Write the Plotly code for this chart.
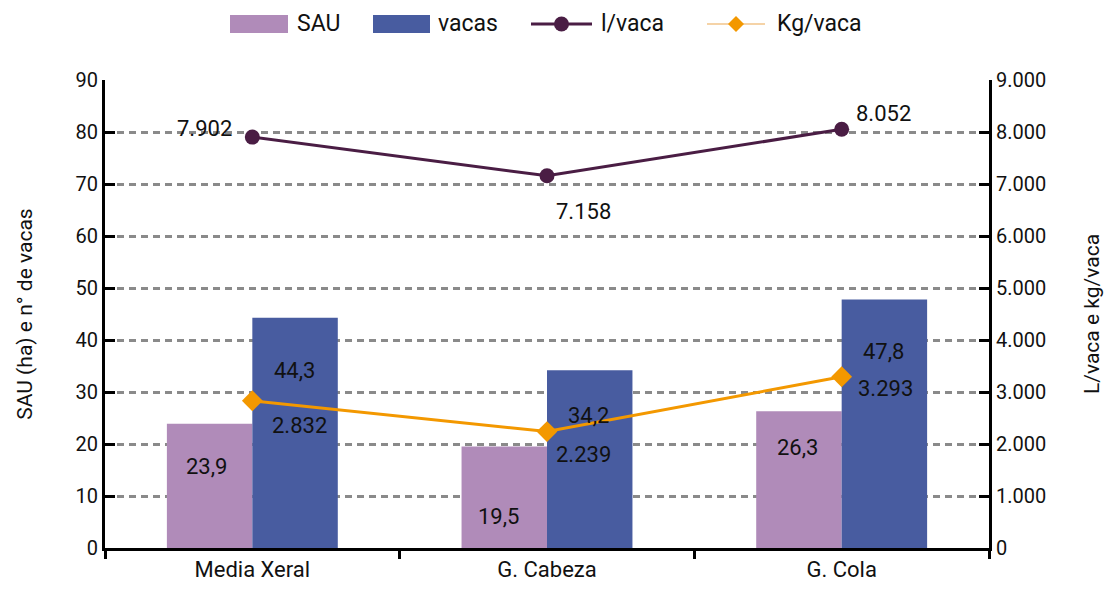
import plotly.graph_objects as go

categories = ["Media Xeral", "G. Cabeza", "G. Cola"]
sau = [23.9, 19.5, 26.3]
vacas = [44.3, 34.2, 47.8]
l_vaca = [7902, 7158, 8052]
kg_vaca = [2832, 2239, 3293]

series_names = ["SAU", "vacas", "l/vaca", "Kg/vaca"]

# label pixel offsets (style only)
sau_off = [(-46, -43), (-49, -70), (-44, -36)]
vacas_off = [(42, -53), (41, -45), (42, -52)]
l_off = [(-48, 9), (36, -36), (42, 16)]
kg_off = [(47, -25), (36, -23), (44, -12)]

FONT = "Roboto"
C_SAU = "#B08BB9"
C_VACAS = "#485CA0"
C_L = "#4A1D44"
C_KG = "#F39800"

OFF = 0  # page body margin removed via post_script
W, H = 1104, 597
# target plot area on screen: x 105..989, y 80..548
ML, MT = 105 - OFF, 80 - OFF
MR, MB = W - (989 - OFF), H - (548 - OFF)
PW, PH = W - ML - MR, H - MT - MB


def px(xs):
    return (xs - OFF - ML) / PW


def py(ys):
    return (H - MB - (ys - OFF)) / PH


def es_num(v, dec=False):
    if dec:
        return f"{v:.1f}".replace(".", ",")
    return f"{int(round(v)):,}".replace(",", ".")


fig = go.Figure()
fig.add_trace(go.Bar(x=categories, y=sau, name=series_names[0], marker=dict(color=C_SAU, line=dict(width=0)), yaxis="y"))
fig.add_trace(go.Bar(x=categories, y=vacas, name=series_names[1], marker=dict(color=C_VACAS, line=dict(width=0)), yaxis="y"))
fig.add_trace(go.Scatter(x=categories, y=l_vaca, name=series_names[2], mode="lines+markers",
                         line=dict(color=C_L, width=3), marker=dict(symbol="circle", size=15, color=C_L),
                         yaxis="y2"))
fig.add_trace(go.Scatter(x=categories, y=kg_vaca, name=series_names[3], mode="lines+markers",
                         line=dict(color=C_KG, width=3), marker=dict(symbol="diamond", size=16, color=C_KG),
                         yaxis="y2"))

ann = []
lab_font = dict(family=FONT, size=22, color="#111111")
for i, c in enumerate(categories):
    ann.append(dict(x=c, y=sau[i], xref="x", yref="y", text=es_num(sau[i], True), showarrow=False,
                    xshift=sau_off[i][0], yshift=sau_off[i][1], font=lab_font))
    ann.append(dict(x=c, y=vacas[i], xref="x", yref="y", text=es_num(vacas[i], True), showarrow=False,
                    xshift=vacas_off[i][0], yshift=vacas_off[i][1], font=lab_font))
    ann.append(dict(x=c, y=l_vaca[i], xref="x", yref="y2", text=es_num(l_vaca[i]), showarrow=False,
                    xshift=l_off[i][0], yshift=l_off[i][1], font=lab_font))
    ann.append(dict(x=c, y=kg_vaca[i], xref="x", yref="y2", text=es_num(kg_vaca[i]), showarrow=False,
                    xshift=kg_off[i][0], yshift=kg_off[i][1], font=lab_font))

# custom legend (decoration)
LY = 24
shapes = []
leg_font = dict(family=FONT, size=23, color="#111111")
shapes.append(dict(type="rect", xref="paper", yref="paper", x0=px(230), x1=px(288), y0=py(LY - 9), y1=py(LY + 9),
                   fillcolor=C_SAU, line=dict(width=0)))
ann.append(dict(xref="paper", yref="paper", x=px(295), y=py(LY), xanchor="left", yanchor="middle",
                text=series_names[0], showarrow=False, font=leg_font))
shapes.append(dict(type="rect", xref="paper", yref="paper", x0=px(373), x1=px(430), y0=py(LY - 9), y1=py(LY + 9),
                   fillcolor=C_VACAS, line=dict(width=0)))
ann.append(dict(xref="paper", yref="paper", x=px(436), y=py(LY), xanchor="left", yanchor="middle",
                text=series_names[1], showarrow=False, font=leg_font))
shapes.append(dict(type="line", xref="paper", yref="paper", x0=px(531), x1=px(592), y0=py(LY), y1=py(LY),
                   line=dict(color=C_L, width=3)))
shapes.append(dict(type="circle", xref="paper", yref="paper", x0=px(554), x1=px(569), y0=py(LY - 7.5), y1=py(LY + 7.5),
                   fillcolor=C_L, line=dict(width=0)))
ann.append(dict(xref="paper", yref="paper", x=px(599), y=py(LY), xanchor="left", yanchor="middle",
                text=series_names[2], showarrow=False, font=leg_font))
shapes.append(dict(type="line", xref="paper", yref="paper", x0=px(707), x1=px(765), y0=py(LY), y1=py(LY),
                   line=dict(color="#F2C48A", width=1.5)))
cx, r = 736, 8
shapes.append(dict(type="path", xref="paper", yref="paper",
                   path=f"M {px(cx - r)},{py(LY)} L {px(cx)},{py(LY - r)} L {px(cx + r)},{py(LY)} L {px(cx)},{py(LY + r)} Z",
                   fillcolor=C_KG, line=dict(width=0)))
ann.append(dict(xref="paper", yref="paper", x=px(775), y=py(LY), xanchor="left", yanchor="middle",
                text=series_names[3], showarrow=False, font=leg_font))

fig.update_layout(
    width=W, height=H,
    margin=dict(l=ML, r=MR, t=MT, b=MB, autoexpand=False),
    paper_bgcolor="white", plot_bgcolor="white",
    font=dict(family=FONT, size=20, color="#111111"),
    separators=",.",
    barmode="group", bargap=0.42, bargroupgap=0,
    showlegend=False,
    xaxis=dict(type="category", showline=True, linecolor="black", linewidth=3,
               ticks="outside", tickson="boundaries", ticklen=8, tickwidth=3, tickcolor="black",
               showgrid=False, tickfont=dict(size=22), automargin=False),
    yaxis=dict(range=[0, 90], dtick=10, showline=True, linecolor="black", linewidth=3,
               ticks="inside", ticklen=10, tickwidth=3, tickcolor="black",
               showgrid=True, gridcolor="#8A8A8A", gridwidth=3, griddash="7px,5px",
               zeroline=False, automargin=False,
               title=dict(text="SAU (ha) e n° de vacas", font=dict(size=21), standoff=38),
               tickfont=dict(size=20)),
    yaxis2=dict(range=[0, 9000], dtick=1000, overlaying="y", side="right", tickformat=",d",
                showline=True, linecolor="black", linewidth=3,
                ticks="inside", ticklen=10, tickwidth=3, tickcolor="black",
                showgrid=False, zeroline=False, automargin=False,
                title=dict(text="L/vaca e kg/vaca", font=dict(size=21), standoff=40),
                tickfont=dict(size=20)),
    annotations=ann,
    shapes=shapes,
)

fig.write_html("out.html",
               config={"displayModeBar": False},
               post_script="document.body.style.margin='0';document.body.style.overflow='hidden';")
